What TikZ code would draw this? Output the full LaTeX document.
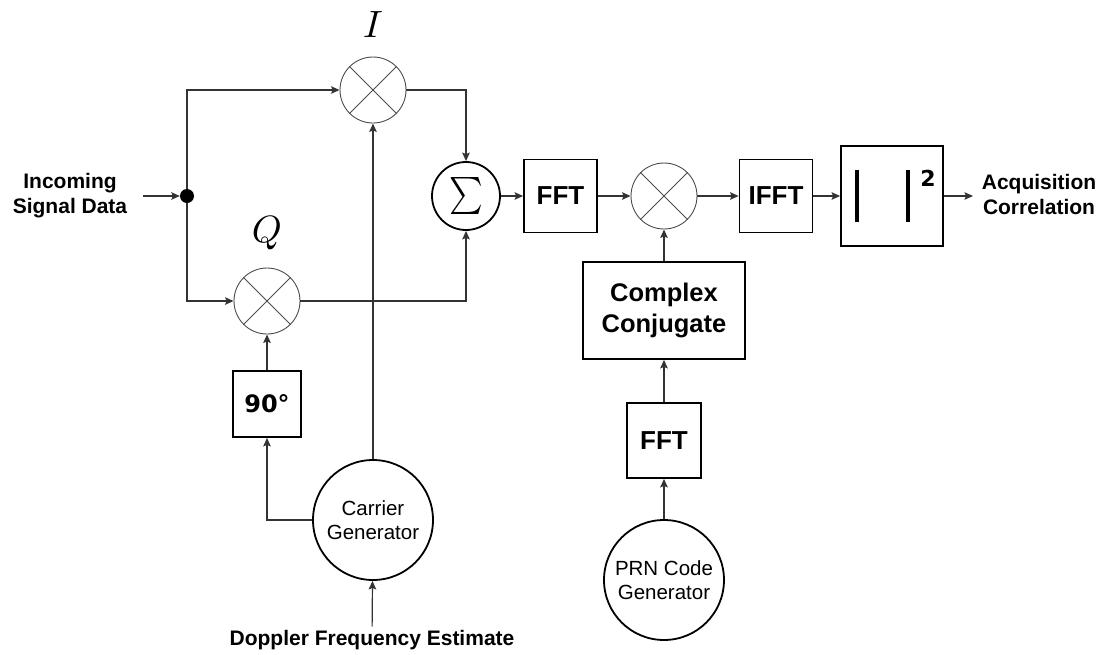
\documentclass[tikz,border=0pt]{standalone}
\usepackage{fontspec}
\usepackage{graphicx}
\setmainfont{Liberation Sans}
\newfontfamily\dvs{DejaVu Sans}
\usetikzlibrary{arrows.meta}
\begin{document}
\begin{tikzpicture}[x=1pt,y=-1pt,
  mixer/.style={circle,draw=black!70,line width=0.9pt,minimum size=66pt,inner sep=0pt},
  blk/.style={draw,line width=1.8pt,inner sep=0pt,align=center},
  dvfont/.style={font=\dvs\bfseries\fontsize{24}{24}\selectfont},
  fftfont/.style={font=\bfseries\fontsize{26}{26}\selectfont},
  gen/.style={circle,draw,line width=1.8pt,minimum size=120pt,inner sep=0pt,align=center,font=\fontsize{20.5}{24}\selectfont},
  lbl/.style={align=center,font=\bfseries\fontsize{21}{25}\selectfont},
  conn/.style={line width=1.2pt,draw=black!80},
  arr/.style={conn,-{Stealth[length=8.5pt,width=7.5pt,inset=1.5pt]}},
]
\useasboundingbox (0,0) rectangle (1112,654);

% left part
\node[lbl] (in) at (70,196) {Incoming\\Signal Data};
\coordinate (inS) at (143,196);
\node[circle,fill,inner sep=0pt,minimum size=14pt] (dot) at (187,196) {};
\node[mixer] (mi) at (373,90) {};
\node[mixer] (mq) at (267,301) {};
\node (il) at (373,25) {\scalebox{3.8}{$I$}};
\node (ql) at (267,233) {\scalebox{3.8}{$Q$}};
\node[circle,draw,line width=1.8pt,minimum size=68pt,inner sep=0pt] (sum) at (466,196) {\scalebox{3.2}[3.7]{$\sum$}};
\node[blk,minimum width=68pt,minimum height=66pt,dvfont] (ph) at (267,404) {90°};
\node[gen] (car) at (373,520) {Carrier\\Generator};
\node[lbl] (dop) at (372,640) {Doppler Frequency Estimate};

% right part
\node[blk,minimum width=73pt,minimum height=73pt,fftfont] (fft1) at (560.5,196) {FFT};
\node[mixer] (mc) at (664,196) {};
\node[blk,minimum width=73pt,minimum height=73pt,fftfont] (ifft) at (776,196) {IFFT};
\node[blk,minimum width=102pt,minimum height=100pt] (abs) at (892,196) {};
\draw[line width=3.5pt] (857,170) -- (857,222);
\draw[line width=3.5pt] (908,170) -- (908,222);
\node[font=\dvs\bfseries\fontsize{22}{22}\selectfont] (sq) at (928,178) {2};
\coordinate (out) at (973,196);
\node[lbl] (acq) at (1039,194) {Acquisition\\Correlation};
\node[blk,minimum width=162pt,minimum height=97pt,font=\bfseries\fontsize{25.5}{31}\selectfont] (cc) at (664,310.5) {Complex\\Conjugate};
\node[blk,minimum width=74pt,minimum height=75pt,fftfont] (fft2) at (664,440.5) {FFT};
\node[gen] (prn) at (664,580) {PRN Code\\Generator};

% mixer crosses
\foreach \m in {mi,mq,mc}
  \draw[black!70,line width=0.8pt] (\m.45) -- (\m.225) (\m.135) -- (\m.315);

% connectors
\draw[arr] (inS) -- (dot);
\draw[arr] (dot) |- (mi);
\draw[arr] (dot) |- (mq);
\draw[arr] (mi) -| (sum);
\draw[arr] (mq) -| (sum);
\draw[arr] (car) -- (mi);
\draw[arr] (car) -| (ph);
\draw[arr] (ph) -- (mq);
\draw[arr] (dop) -- (car);
\draw[arr] (sum) -- (fft1);
\draw[arr] (fft1) -- (mc);
\draw[arr] (mc) -- (ifft);
\draw[arr] (ifft) -- (abs);
\draw[arr] (abs) -- (out);
\draw[arr] (cc) -- (mc);
\draw[arr] (fft2) -- (cc);
\draw[arr] (prn) -- (fft2);
\end{tikzpicture}
\end{document}
